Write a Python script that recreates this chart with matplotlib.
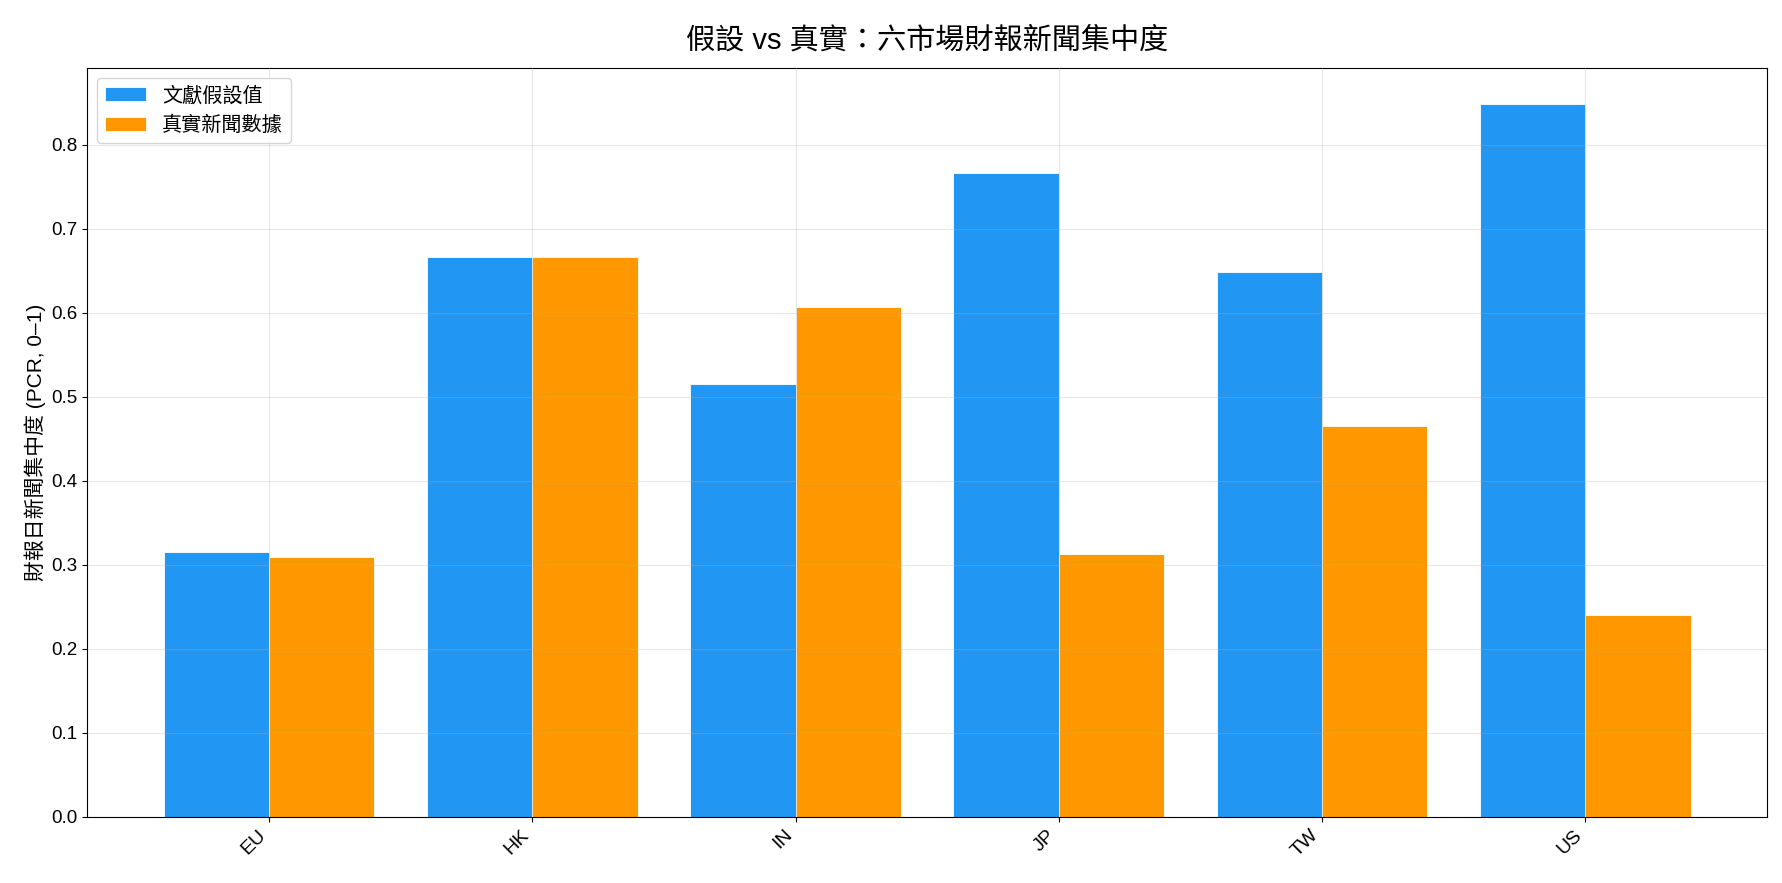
import numpy as np
import matplotlib
matplotlib.use('Agg')
import matplotlib.pyplot as plt

plt.rcParams['font.family'] = ['Liberation Sans', 'Noto Sans CJK TC', 'DejaVu Sans']

markets = ['EU', 'HK', 'IN', 'JP', 'TW', 'US']
assumed = [0.315, 0.666, 0.515, 0.766, 0.649, 0.849]   # 文獻假設值
real = [0.309, 0.666, 0.607, 0.313, 0.465, 0.240]      # 真實新聞數據

fig = plt.figure(figsize=(17.83, 8.83), dpi=100)
ax = fig.add_axes([0.049, 0.075, 0.942, 0.848])

x = np.arange(len(markets))
w = 0.4
ax.bar(x - w/2, assumed, w, color='#2196F3', edgecolor='white', linewidth=0.6, label='文獻假設值')
ax.bar(x + w/2, real, w, color='#FF9800', edgecolor='white', linewidth=0.6, label='真實新聞數據')

ax.set_xticks(x)
ax.set_xticklabels(markets, rotation=45, ha='right', fontsize=14)
ax.tick_params(axis='y', labelsize=13.5)
ax.set_ylabel('財報日新聞集中度 (PCR, 0–1)', fontsize=15)
ax.set_title('假設 vs 真實：六市場財報新聞集中度', fontsize=21, pad=14)
ax.grid(True, alpha=0.3)
ax.set_axisbelow(False)
ax.legend(loc='upper left', fontsize=14.5)

fig.savefig('out.png', dpi=100)
